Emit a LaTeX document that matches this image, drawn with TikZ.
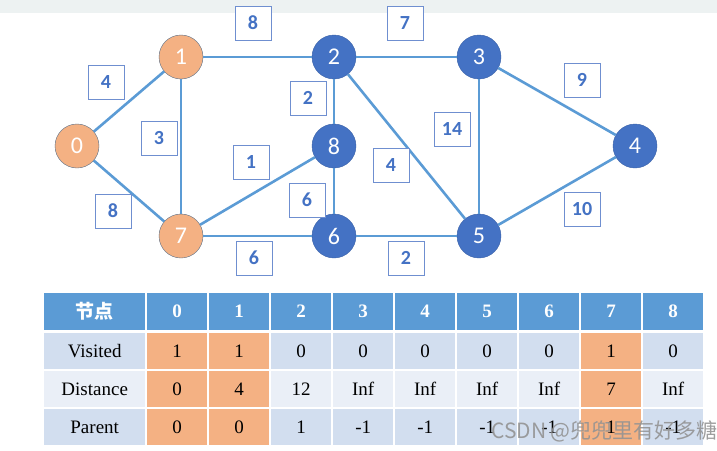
\documentclass[tikz,border=0pt]{standalone}
\usepackage{fontspec}
\setmainfont{Liberation Serif}
\newfontfamily\cali{Carlito}
\newfontfamily\cjk{Noto Sans CJK SC}
\usepackage{xcolor}
\usepackage{tikz}
\usetikzlibrary{matrix,positioning}

\definecolor{nodeblue}{HTML}{4472C4}
\definecolor{nodeorange}{HTML}{F4B183}
\definecolor{ringgray}{HTML}{5A6E86}
\definecolor{edgeblue}{HTML}{5B9BD5}
\definecolor{boxblue}{HTML}{6F8FD0}
\definecolor{headblue}{HTML}{5B9BD5}
\definecolor{rowdark}{HTML}{D2DEEF}
\definecolor{rowlight}{HTML}{EAEFF7}
\definecolor{topband}{HTML}{EDF2F2}

\begin{document}
\begin{tikzpicture}[x=1pt,y=-1pt,
  vis/.style={
   draw=ringgray,
   circle,
   fill=nodeorange,
   minimum size=44pt,
   inner sep=0pt,
   text=white,
   font=\cali\fontsize{24}{24}\selectfont
  },
  unvis/.style={
    vis,
    draw=nodeblue!85!black,
    fill=nodeblue
  },
  wbox/.style={
    draw=boxblue,
    fill=white,
    minimum width=36pt,
    minimum height=34pt,
    inner sep=0pt,
    text=nodeblue,
    font=\cali\bfseries\fontsize{20}{20}\selectfont
  },
  edge/.style={edgeblue, line width=2.6pt}]
  \useasboundingbox (0,0) rectangle (717,450);
  \fill[topband] (0,0) rectangle (717,13);

  % vertices
  \node[vis] (v0) at (77,146) {0};
  \node[vis] (v1) at (181,57) {1};
  \node[unvis] (v2) at (334,57) {2};
  \node[unvis] (v3) at (479,57) {3};
  \node[unvis] (v4) at (635,146) {4};
  \node[unvis] (v5) at (479,236) {5};
  \node[unvis] (v6) at (334,236) {6};
  \node[vis] (v7) at (181,236) {7};
  \node[unvis] (v8) at (334,146) {8};

  % edges
  \draw[edge] (v0) -- (v1);
  \draw[edge] (v0) -- (v7);
  \draw[edge] (v1) -- (v2);
  \draw[edge] (v1) -- (v7);
  \draw[edge] (v2) -- (v3);
  \draw[edge] (v2) -- (v8);
  \draw[edge] (v2) -- (v5);
  \draw[edge] (v3) -- (v5);
  \draw[edge] (v3) -- (v4);
  \draw[edge] (v5) -- (v4);
  \draw[edge] (v8) -- (v7);
  \draw[edge] (v8) -- (v6);
  \draw[edge] (v7) -- (v6);
  \draw[edge] (v6) -- (v5);

  % weights
  \node[wbox] (w01) at (106,82) {4};
  \node[wbox] (w12) at (253,23) {8};
  \node[wbox] (w17) at (159,138) {3};
  \node[wbox] (w07) at (113,211) {8};
  \node[wbox] (w28) at (308,98) {2};
  \node[wbox] (w78) at (251,162) {1};
  \node[wbox] (w86) at (307,200) {6};
  \node[wbox] (w76) at (254,258) {6};
  \node[wbox] (w23) at (405,23) {7};
  \node[wbox] (w35) at (452,129) {14};
  \node[wbox] (w25) at (391,165) {4};
  \node[wbox] (w34) at (582,80) {9};
  \node[wbox] (w45) at (582,209) {10};
  \node[wbox] (w65) at (406,258) {2};

  % state table
  \matrix (tbl) [matrix of nodes, anchor=north west, inner sep=0pt,
    column sep=2pt, row sep=2pt,
    nodes={minimum width=60pt, minimum height=36pt, inner sep=0pt,
      anchor=center, font=\fontsize{19}{19}\selectfont},
    column 1/.style={nodes={minimum width=101pt}},
    row 1/.style={nodes={fill=headblue, text=white, minimum height=37pt,
      font=\bfseries\fontsize{19}{19}\selectfont}},
    row 2/.style={nodes={fill=rowdark}},
    row 3/.style={nodes={fill=rowlight}},
    row 4/.style={nodes={fill=rowdark}},
    row 2 column 2/.style={nodes={fill=nodeorange}},
    row 2 column 3/.style={nodes={fill=nodeorange}},
    row 2 column 9/.style={nodes={fill=nodeorange}},
    row 3 column 2/.style={nodes={fill=nodeorange}},
    row 3 column 3/.style={nodes={fill=nodeorange}},
    row 3 column 9/.style={nodes={fill=nodeorange}},
    row 4 column 2/.style={nodes={fill=nodeorange}},
    row 4 column 3/.style={nodes={fill=nodeorange}},
    row 4 column 9/.style={nodes={fill=nodeorange}}]
    at (44,293) {
    {\cjk 节点} & 0 & 1 & 2 & 3 & 4 & 5 & 6 & 7 & 8 \\[1pt]
    Visited & 1 & 1 & 0 & 0 & 0 & 0 & 0 & 1 & 0 \\
    Distance & 0 & 4 & 12 & Inf & Inf & Inf & Inf & 7 & Inf \\
    Parent & 0 & 0 & 1 & -1 & -1 & -1 & -1 & 1 & -1 \\
  };

  \node[anchor=west, text=gray!85, opacity=0.9, inner sep=0pt,
    font=\cjk\fontsize{21}{21}\selectfont] (mark) at (491,431) {CSDN @兜兜里有好多糖};
\end{tikzpicture}
\end{document}
